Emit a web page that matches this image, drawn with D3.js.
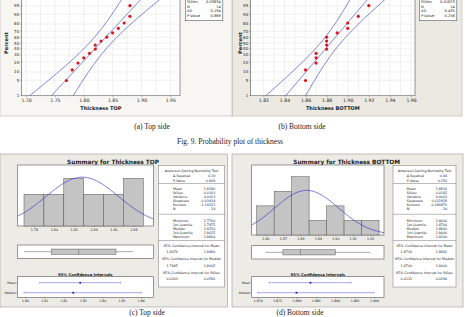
<!DOCTYPE html>
<html>
<head>
<meta charset="utf-8">
<script src="https://cdn.jsdelivr.net/npm/d3@7"></script>
<style>
body { margin: 0; background: #fff; }
svg { display: block; }
text { font-family: "DejaVu Sans", sans-serif; fill: #222; }
.cap { font-family: "Liberation Serif", serif; font-size: 7.5px; }
</style>
</head>
<body>
<svg id="chart"></svg>
<script>
const topThickness = [1.77, 1.78, 1.79, 1.80, 1.81, 1.82, 1.82, 1.83, 1.84, 1.85, 1.86, 1.87, 1.88, 1.88];
const bottomThickness = [1.86, 1.86, 1.87, 1.87, 1.87, 1.88, 1.88, 1.88, 1.88, 1.89, 1.90, 1.90, 1.91, 1.92];
const plotPercent = [4.9, 11.8, 18.8, 25.7, 32.6, 39.6, 46.5, 53.5, 60.4, 67.4, 74.3, 81.3, 88.2, 95.1];

const percentTicks = [1, 5, 10, 20, 30, 40, 50, 60, 70, 80, 90, 95, 99];
const percentLabels = [1, 5, 10, 20, 30, 40, 50, 60, 70, 80, 90, 95];
const topProbTicks = [1.70, 1.75, 1.80, 1.85, 1.90, 1.95];
const bottomProbTicks = [1.82, 1.84, 1.86, 1.88, 1.90, 1.92, 1.94, 1.96];

const topLegend = [["StDev", "0.03634"], ["N", "14"], ["AD", "0.194"], ["P-Value", "0.869"]];
const bottomLegend = [["StDev", "0.01823"], ["N", "14"], ["AD", "0.435"], ["P-Value", "0.256"]];

const topMean = 1.8286, topSd = 0.03634;
const bottomMean = 1.8836, bottomSd = 0.01823;

// histograms
const topBins = [1.78, 1.80, 1.82, 1.84, 1.86, 1.88];
const topCounts = [2, 2, 3, 2, 2, 3];
const bottomBins = [1.86, 1.87, 1.88, 1.89, 1.90, 1.91, 1.92];
const bottomCounts = [2, 3, 4, 1, 2, 1, 1];

// min, q1, median, q3, max
const topFive = [1.77, 1.7975, 1.825, 1.8625, 1.88];
const bottomFive = [1.86, 1.87, 1.88, 1.90, 1.92];

const topMeanCI = [1.8076, 1.8496], topMedianCI = [1.7995, 1.8605];
const bottomMeanCI = [1.8730, 1.8941], bottomMedianCI = [1.8700, 1.9000];
const topCiTicks = [1.80, 1.81, 1.82, 1.83, 1.84, 1.85, 1.86];
const bottomCiTicks = [1.870, 1.875, 1.880, 1.885, 1.890, 1.895, 1.900];

const topTable = [
  ["A-Squared", "0.19"], ["P-Value", "0.869"],
  ["Mean", "1.8286"], ["StDev", "0.0363"], ["Variance", "0.0013"], ["Skewness", "-0.03434"], ["Kurtosis", "-1.14153"], ["N", "14"],
  ["Minimum", "1.7700"], ["1st Quartile", "1.7975"], ["Median", "1.8250"], ["3rd Quartile", "1.8625"], ["Maximum", "1.8800"],
  ["1.8076", "1.8496"], ["1.7995", "1.8605"], ["0.0263", "0.0586"]
];
const bottomTable = [
  ["A-Squared", "0.44"], ["P-Value", "0.256"],
  ["Mean", "1.8836"], ["StDev", "0.0182"], ["Variance", "0.0003"], ["Skewness", "0.632819"], ["Kurtosis", "-0.389876"], ["N", "14"],
  ["Minimum", "1.8600"], ["1st Quartile", "1.8700"], ["Median", "1.8800"], ["3rd Quartile", "1.9000"], ["Maximum", "1.9200"],
  ["1.8730", "1.8941"], ["1.8700", "1.9000"], ["0.0132", "0.0294"]
];

const width = 465, height = 317;
const svg = d3.select("#chart").attr("width", width).attr("height", height);
svg.append("rect").attr("width", width).attr("height", height).attr("fill", "#fff");

const lineBlue = "#4848c8";

// inverse normal cdf (Acklam)
function probit(p) {
  const a = [-39.69683028665376, 220.9460984245205, -275.9285104469687, 138.3577518672690, -30.66479806614716, 2.506628277459239];
  const b = [-54.47609879822406, 161.5858368580409, -155.6989798598866, 66.80131188771972, -13.28068155288572];
  const c = [-0.007784894002430293, -0.3223964580411365, -2.400758277161838, -2.549732539343734, 4.374664141464968, 2.938163982698783];
  const d = [0.007784695709041462, 0.3224671290700398, 2.445134137142996, 3.754408661907416];
  if (p < 0.02425) {
    const q = Math.sqrt(-2 * Math.log(p));
    return (((((c[0]*q+c[1])*q+c[2])*q+c[3])*q+c[4])*q+c[5]) / ((((d[0]*q+d[1])*q+d[2])*q+d[3])*q+1);
  }
  if (p > 1 - 0.02425) return -probit(1 - p);
  const q = p - 0.5, r = q * q;
  return (((((a[0]*r+a[1])*r+a[2])*r+a[3])*r+a[4])*r+a[5])*q / (((((b[0]*r+b[1])*r+b[2])*r+b[3])*r+b[4])*r+1);
}

function probPlot(cfg) {
  const g = svg.append("g");
  g.append("rect").attr("x", cfg.panel[0]).attr("y", -2).attr("width", cfg.panel[1] - cfg.panel[0]).attr("height", 118)
    .attr("fill", cfg.bg).attr("stroke", "#b8b6b0").attr("stroke-width", 0.6);

  const x = d3.scaleLinear().domain(cfg.domain).range([cfg.left, cfg.right]);
  const y = d3.scaleLinear().domain([probit(0.01), probit(0.99)]).range([95.7, -9.5]);
  const top = -9.5, bottom = 95.7;

  g.append("rect").attr("x", cfg.left).attr("y", top).attr("width", cfg.right - cfg.left).attr("height", bottom - top)
    .attr("fill", "#fff").attr("stroke", "#555").attr("stroke-width", 0.6);

  const clipId = "clip" + cfg.id;
  g.append("clipPath").attr("id", clipId).append("rect")
    .attr("x", cfg.left).attr("y", top).attr("width", cfg.right - cfg.left).attr("height", bottom - top);

  const grid = g.append("g").attr("stroke", "#c4c4c4").attr("stroke-width", 0.4).attr("stroke-dasharray", "1.5,1");
  grid.selectAll(".h").data(percentTicks).join("line")
    .attr("x1", cfg.left).attr("x2", cfg.right)
    .attr("y1", d => y(probit(d / 100))).attr("y2", d => y(probit(d / 100)));
  grid.selectAll(".v").data(cfg.grid).join("line")
    .attr("y1", top).attr("y2", bottom)
    .attr("x1", d => x(d)).attr("x2", d => x(d));

  const zs = d3.range(-3, 3.01, 0.05);
  const n = cfg.values.length;
  const half = z => 1.96 * cfg.sd * Math.sqrt(1 / n + z * z / (2 * (n - 1)));
  const lines = g.append("g").attr("clip-path", `url(#${clipId})`).attr("fill", "none")
    .attr("stroke", lineBlue).attr("stroke-width", 0.7);
  [z => cfg.mean + z * cfg.sd, z => cfg.mean + z * cfg.sd - half(z), z => cfg.mean + z * cfg.sd + half(z)].forEach(f => {
    lines.append("path").attr("d", d3.line().x(z => x(f(z))).y(z => y(z))(zs));
  });

  g.selectAll(".pt").data(cfg.values).join("circle")
    .attr("cx", d => x(d)).attr("cy", (d, i) => y(probit(plotPercent[i] / 100)))
    .attr("r", 1.6).attr("fill", "#e0141e");

  g.selectAll(".yl").data(percentLabels).join("text")
    .attr("x", cfg.left - 2.5).attr("y", d => y(probit(d / 100)) + 1.4)
    .attr("text-anchor", "end").attr("font-size", 4).text(d => d);
  g.selectAll(".yt").data(percentTicks).join("line")
    .attr("x1", cfg.left - 1.5).attr("x2", cfg.left)
    .attr("y1", d => y(probit(d / 100))).attr("y2", d => y(probit(d / 100)))
    .attr("stroke", "#555").attr("stroke-width", 0.4);

  const xAxis = d3.axisBottom(x).tickValues(cfg.ticks).tickSize(1.5).tickFormat(d3.format(".2f"));
  const ax = g.append("g").attr("transform", `translate(0,${bottom})`).call(xAxis);
  ax.select(".domain").remove();
  ax.selectAll("line").attr("stroke", "#555").attr("stroke-width", 0.4);
  ax.selectAll("text").attr("font-size", 4.6).attr("font-family", "DejaVu Sans, sans-serif").attr("fill", "#222").attr("y", 3.5);

  g.append("text").attr("x", (cfg.left + cfg.right) / 2).attr("y", 109.5).attr("text-anchor", "middle")
    .attr("font-size", 5).attr("font-weight", "bold").text(cfg.title);
  g.append("text").attr("transform", `translate(${cfg.yTitleX},43) rotate(-90)`).attr("text-anchor", "middle")
    .attr("font-size", 5).attr("font-weight", "bold").text("Percent");

  const lg = g.append("g");
  lg.append("rect").attr("x", cfg.legendX).attr("y", -20).attr("width", 37.5).attr("height", 40.7)
    .attr("fill", "#fff").attr("stroke", "#555").attr("stroke-width", 0.6);
  cfg.legend.forEach((row, i) => {
    const yy = 3.2 + i * 4.6;
    lg.append("text").attr("x", cfg.legendX + 1.8).attr("y", yy).attr("font-size", 3.6).text(row[0]);
    lg.append("text").attr("x", cfg.legendX + 35.6).attr("y", yy).attr("font-size", 3.6).attr("text-anchor", "end").text(row[1]);
  });
}

probPlot({
  id: "a", panel: [0, 232], bg: "#f7f6f2", left: 21.7, right: 180, domain: [1.6925, 1.9668],
  ticks: topProbTicks, grid: d3.range(1.70, 1.96, 0.025), values: topThickness, mean: topMean, sd: topSd,
  title: "Thickness TOP", yTitleX: 7.8, legendX: 185.3, legend: topLegend
});
probPlot({
  id: "b", panel: [232.5, 462], bg: "#ebe9e2", left: 250.7, right: 415, domain: [1.8080, 1.9638],
  ticks: bottomProbTicks, grid: d3.range(1.82, 1.965, 0.01), values: bottomThickness, mean: bottomMean, sd: bottomSd,
  title: "Thickness BOTTOM", yTitleX: 242, legendX: 419.3, legend: bottomLegend
});

function summary(cfg) {
  const g = svg.append("g");
  g.append("rect").attr("x", cfg.panel[0]).attr("y", 154).attr("width", cfg.panel[1] - cfg.panel[0]).attr("height", 153)
    .attr("fill", "#edebe5").attr("stroke", "#a8a6a0").attr("stroke-width", 0.7);

  g.append("text").attr("x", cfg.titleX).attr("y", 163.8).attr("text-anchor", "middle")
    .attr("font-size", 5.8).attr("font-weight", "bold").text(cfg.title);

  const L = cfg.left, R = cfg.right;
  const x = d3.scaleLinear().domain(cfg.domain).range([L, R]);
  const y = d3.scaleLinear().domain([0, cfg.countMax]).range([cfg.histBottom, 165]);

  // histogram
  g.append("rect").attr("x", L).attr("y", 165).attr("width", R - L).attr("height", cfg.histBottom - 165)
    .attr("fill", "#fff").attr("stroke", "#555").attr("stroke-width", 0.6);
  g.selectAll(".bar").data(cfg.bins).join("rect")
    .attr("x", d => x(d - cfg.binW / 2)).attr("width", d => x(d + cfg.binW / 2) - x(d - cfg.binW / 2))
    .attr("y", (d, i) => y(cfg.counts[i])).attr("height", (d, i) => cfg.histBottom - y(cfg.counts[i]))
    .attr("fill", "#c4c4c4").attr("stroke", "#555").attr("stroke-width", 0.5);

  const clipId = "hclip" + cfg.id;
  g.append("clipPath").attr("id", clipId).append("rect")
    .attr("x", L).attr("y", 165).attr("width", R - L).attr("height", cfg.histBottom - 165);
  const n = 14;
  const dens = v => n * cfg.binW * Math.exp(-0.5 * ((v - cfg.mean) / cfg.sd) ** 2) / (cfg.sd * Math.sqrt(2 * Math.PI));
  const xs = d3.range(cfg.domain[0], cfg.domain[1] + 0.0005, (cfg.domain[1] - cfg.domain[0]) / 120);
  g.append("path").attr("clip-path", `url(#${clipId})`)
    .attr("d", d3.line().x(v => x(v)).y(v => y(dens(v)))(xs))
    .attr("fill", "none").attr("stroke", "#3c3cc8").attr("stroke-width", 0.7);

  const hx = g.append("g").attr("transform", `translate(0,${cfg.histBottom})`)
    .call(d3.axisBottom(x).tickValues(cfg.bins).tickSize(1.2).tickFormat(d3.format(".2f")));
  hx.select(".domain").remove();
  hx.selectAll("line").attr("stroke", "#555").attr("stroke-width", 0.4);
  hx.selectAll("text").attr("font-size", 3.3).attr("font-family", "DejaVu Sans, sans-serif").attr("fill", "#222").attr("y", 2.6);

  // boxplot
  const bt = cfg.boxTop, bb = cfg.boxTop + 13.3, bm = (bt + bb) / 2;
  g.append("rect").attr("x", L).attr("y", bt).attr("width", R - L).attr("height", bb - bt)
    .attr("fill", "#fff").attr("stroke", "#555").attr("stroke-width", 0.6);
  const f = cfg.five;
  g.append("line").attr("x1", x(f[0])).attr("x2", x(f[1])).attr("y1", bm).attr("y2", bm).attr("stroke", "#555").attr("stroke-width", 0.5);
  g.append("line").attr("x1", x(f[3])).attr("x2", x(f[4])).attr("y1", bm).attr("y2", bm).attr("stroke", "#555").attr("stroke-width", 0.5);
  g.append("rect").attr("x", x(f[1])).attr("y", bm - 2.6).attr("width", x(f[3]) - x(f[1])).attr("height", 5.2)
    .attr("fill", "#c4c4c4").attr("stroke", "#555").attr("stroke-width", 0.5);
  g.append("line").attr("x1", x(f[2])).attr("x2", x(f[2])).attr("y1", bm - 2.6).attr("y2", bm + 2.6).attr("stroke", "#555").attr("stroke-width", 0.5);

  // confidence intervals
  g.append("text").attr("x", (L + R) / 2).attr("y", 275.6).attr("text-anchor", "middle")
    .attr("font-size", 3.8).attr("font-weight", "bold").text("95% Confidence Intervals");
  const cx = d3.scaleLinear().domain(cfg.ciDomain).range([L, R]);
  g.append("rect").attr("x", L).attr("y", 276.7).attr("width", R - L).attr("height", 20.8)
    .attr("fill", "#fff").attr("stroke", "#555").attr("stroke-width", 0.6);
  [[cfg.meanCI, cfg.mean, 282.7, "Mean"], [cfg.medianCI, f[2], 292.7, "Median"]].forEach(([ci, c, yy, lab]) => {
    g.append("line").attr("x1", cx(ci[0])).attr("x2", cx(ci[1])).attr("y1", yy).attr("y2", yy)
      .attr("stroke", "#7070e0").attr("stroke-width", 0.6);
    ci.forEach(v => g.append("line").attr("x1", cx(v)).attr("x2", cx(v)).attr("y1", yy - 1).attr("y2", yy + 1)
      .attr("stroke", "#7070e0").attr("stroke-width", 0.5));
    g.append("circle").attr("cx", cx(c)).attr("cy", yy).attr("r", 1).attr("fill", "#1a1aa0");
    g.append("text").attr("x", L - 1.6).attr("y", yy + 1).attr("text-anchor", "end").attr("font-size", 3.1).text(lab);
    g.append("line").attr("x1", L - 1.2).attr("x2", L).attr("y1", yy).attr("y2", yy).attr("stroke", "#555").attr("stroke-width", 0.4);
  });
  const cax = g.append("g").attr("transform", "translate(0,297.5)")
    .call(d3.axisBottom(cx).tickValues(cfg.ciTicks).tickSize(1.2).tickFormat(d3.format(cfg.ciFmt)));
  cax.select(".domain").remove();
  cax.selectAll("line").attr("stroke", "#555").attr("stroke-width", 0.4);
  cax.selectAll("text").attr("font-size", 3.1).attr("font-family", "DejaVu Sans, sans-serif").attr("fill", "#222").attr("y", 2.4);

  // statistics table
  const tx = cfg.tableX, tw = cfg.tableW;
  const t = g.append("g");
  t.append("rect").attr("x", tx).attr("y", 165.5).attr("width", tw).attr("height", 121.5)
    .attr("fill", "#fff").attr("stroke", "#777").attr("stroke-width", 0.5);
  [183.5, 214.3, 240.5].forEach(yy => t.append("line").attr("x1", tx).attr("x2", tx + tw).attr("y1", yy).attr("y2", yy)
    .attr("stroke", "#777").attr("stroke-width", 0.5));
  const fs = 3.3;
  t.append("text").attr("x", tx + tw / 2).attr("y", 171.6).attr("text-anchor", "middle").attr("font-size", fs).text("Anderson-Darling Normality Test");
  const rowsY = [176.2, 180.4, 189.2, 193.2, 197.2, 201.2, 205.2, 209.2, 220.4, 224.4, 228.4, 232.4, 236.4];
  rowsY.forEach((yy, i) => {
    const row = cfg.table[i];
    t.append("text").attr("x", tx + tw * 0.22).attr("y", yy + 1.1).attr("font-size", fs).text(row[0]);
    t.append("text").attr("x", tx + tw * 0.86).attr("y", yy + 1.1).attr("font-size", fs).attr("text-anchor", "end").text(row[1]);
  });
  const ciHeads = ["95% Confidence Interval for Mean", "95% Confidence Interval for Median", "95% Confidence Interval for StDev"];
  ciHeads.forEach((h, k) => {
    const yh = 245.6 + k * 13.6;
    t.append("text").attr("x", tx + tw / 2).attr("y", yh + 1.1).attr("text-anchor", "middle").attr("font-size", fs).text(h);
    const row = cfg.table[13 + k];
    t.append("text").attr("x", tx + tw * 0.12).attr("y", yh + 7.6).attr("font-size", fs).text(row[0]);
    t.append("text").attr("x", tx + tw * 0.86).attr("y", yh + 7.6).attr("font-size", fs).attr("text-anchor", "end").text(row[1]);
  });
}

summary({
  id: "c", panel: [0, 227.5], title: "Summary for Thickness TOP", titleX: 113,
  left: 17.3, right: 153.3, domain: [1.76326, 1.90006], histBottom: 226, countMax: 3.84,
  bins: topBins, counts: topCounts, binW: 0.02, mean: topMean, sd: topSd,
  boxTop: 245, five: topFive,
  ciDomain: [1.7960, 1.8665], ciTicks: topCiTicks, ciFmt: ".2f", meanCI: topMeanCI, medianCI: topMedianCI,
  tableX: 158.5, tableW: 66, table: topTable
});
summary({
  id: "d", panel: [232, 463], title: "Summary for Thickness BOTTOM", titleX: 346.7,
  left: 251.7, right: 384, domain: [1.85214, 1.92786], histBottom: 235, countMax: 4.805,
  bins: bottomBins, counts: bottomCounts, binW: 0.01, mean: bottomMean, sd: bottomSd,
  boxTop: 245.7, five: bottomFive,
  ciDomain: [1.86845, 1.90258], ciTicks: bottomCiTicks, ciFmt: ".3f", meanCI: bottomMeanCI, medianCI: bottomMedianCI,
  tableX: 393, tableW: 63, table: bottomTable
});

// captions
const caps = [["(a) Top side", 152, 128.5], ["(b) Bottom side", 302, 128.5],
  ["Fig. 9. Probability plot of thickness", 230, 143.5], ["(c) Top side", 147, 314.6], ["(d) Bottom side", 300, 314.6]];
svg.selectAll(".cap").data(caps).join("text").attr("class", "cap")
  .attr("x", d => d[1]).attr("y", d => d[2]).attr("text-anchor", "middle").text(d => d[0]);
</script>
</body>
</html>
